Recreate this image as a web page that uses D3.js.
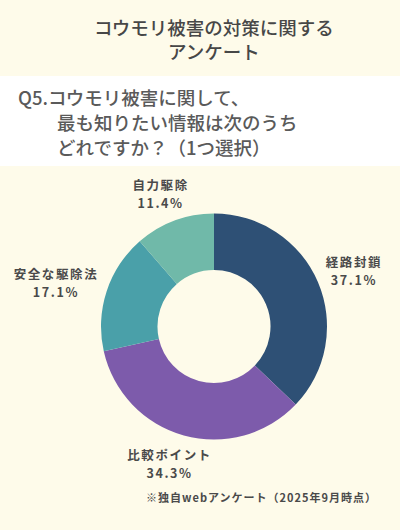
<!DOCTYPE html>
<html>
<head>
<meta charset="utf-8">
<script src="https://cdn.jsdelivr.net/npm/d3@7"></script>
<style>
  html, body { margin: 0; padding: 0; background: #fefbea; }
  svg { display: block; font-family: "Noto Sans CJK JP", "Noto Sans", sans-serif; }
</style>
</head>
<body>
<div id="chart"></div>
<script>
// data
var categories = ['経路封鎖', '比較ポイント', '安全な駆除法', '自力駆除'];
var percents = [37.1, 34.3, 17.1, 11.4];
var titleLines = ['コウモリ被害の対策に関する', 'アンケート'];
var questionLines = ['Q5.コウモリ被害に関して、', '最も知りたい情報は次のうち', 'どれですか？（1つ選択）'];
var footNote = '※独自webアンケート（2025年9月時点）';

var W = 400, H = 530;
var cx = 214, cy = 326.5, outerR = 113, innerR = 56.5;

var svg = d3.select('#chart').append('svg')
  .attr('width', W).attr('height', H);

svg.append('rect').attr('width', W).attr('height', H).attr('fill', '#fefbea');
// white band behind the question
svg.append('rect').attr('x', 0).attr('y', 76).attr('width', W).attr('height', 90).attr('fill', '#ffffff');

// title
svg.append('g').selectAll('text')
  .data(titleLines)
  .enter().append('text')
  .attr('x', 214)
  .attr('y', function(d, i) { return 35 + i * 24; })
  .attr('text-anchor', 'middle')
  .attr('font-size', 18.5)
  .attr('font-weight', 500)
  .attr('fill', '#474747')
  .text(function(d) { return d; });

// question
svg.append('g').selectAll('text')
  .data(questionLines)
  .enter().append('text')
  .attr('x', function(d, i) { return i === 0 ? 18 : 57; })
  .attr('y', function(d, i) { return 105 + i * 25; })
  .attr('font-size', 18.5)
  .attr('font-weight', 500)
  .attr('fill', '#5a5a5a')
  .text(function(d) { return d; });

var color = d3.scaleOrdinal()
  .domain(categories)
  .range(['#2e5075', '#7d5bab', '#4aa0a9', '#70b9a9']);

var pie = d3.pie().sort(null).value(function(d) { return d; });
var slices = pie(percents);

var arc = d3.arc().innerRadius(innerR).outerRadius(outerR);

var g = svg.append('g').attr('transform', 'translate(' + cx + ',' + cy + ')');

g.selectAll('path')
  .data(slices)
  .enter()
  .append('path')
  .attr('d', arc)
  .attr('fill', function(s, i) { return color(categories[i]); });

// labels pushed outside the ring, like "align end"
var labelR = outerR + 11;
var labels = g.selectAll('g.lab')
  .data(slices)
  .enter().append('g').attr('class', 'lab');

labels.each(function(s, i) {
  var lg = d3.select(this);
  var t = lg.append('text')
    .attr('text-anchor', 'middle')
    .attr('font-size', 12.5)
    .attr('font-weight', 'bold')
    .attr('fill', '#4a4a4a')
    .attr('letter-spacing', 1.6);
  t.append('tspan').attr('x', 0).attr('y', 0).text(categories[i]);
  t.append('tspan').attr('x', 0).attr('y', 18).text(d3.format('.1f')(percents[i]) + '%');

  var bb = t.node().getBBox();
  var a = (s.startAngle + s.endAngle) / 2;
  var ux = Math.sin(a), uy = -Math.cos(a);
  var px = ux * labelR + ux * bb.width / 2;
  var py = uy * labelR + uy * bb.height / 2;
  var bx = bb.x + bb.width / 2, by = bb.y + bb.height / 2;
  lg.attr('transform', 'translate(' + (px - bx) + ',' + (py - by) + ')');
});

// footnote
svg.append('text')
  .attr('x', 377)
  .attr('y', 502)
  .attr('text-anchor', 'end')
  .attr('font-size', 11)
  .attr('font-weight', 'bold')
  .attr('fill', '#4a4a4a')
  .attr('letter-spacing', 1)
  .text(footNote);
</script>
</body>
</html>
